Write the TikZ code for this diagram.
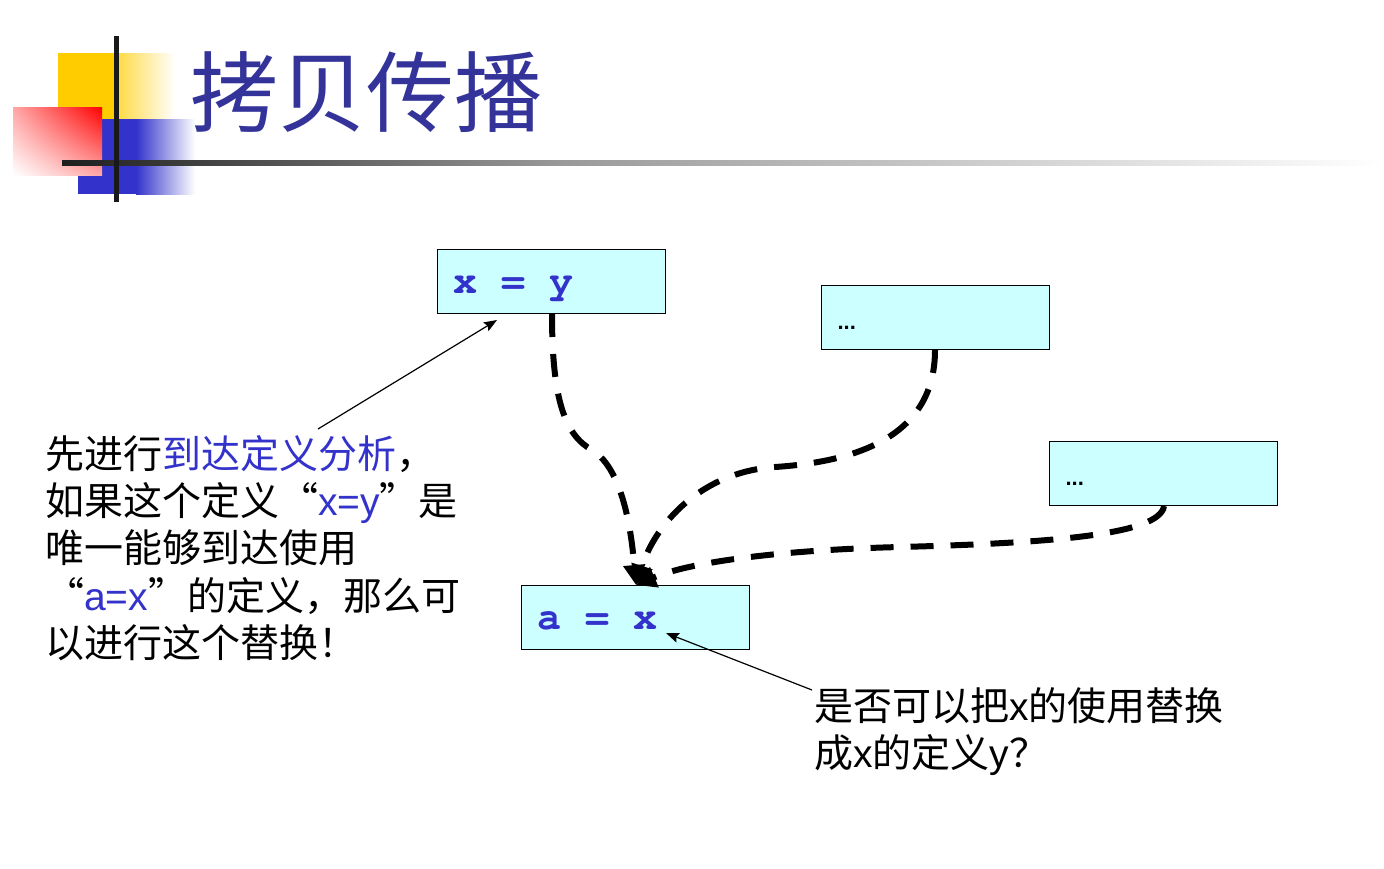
\documentclass[tikz,border=0pt]{standalone}
\usepackage{fontspec}
\setmainfont{Liberation Sans}
\newfontfamily\cjkfont{Noto Sans CJK SC}
\newfontfamily\latfont{Liberation Sans}
\newfontfamily\codefont{TeX Gyre Cursor}
\usetikzlibrary{arrows.meta,shadings}
\definecolor{titleblue}{HTML}{333399}
\definecolor{codeblue}{HTML}{3333CC}
\definecolor{boxfill}{HTML}{CCFFFF}
\definecolor{decoyellow}{HTML}{FFCC00}
\definecolor{decoblue}{HTML}{3333CC}
\newcommand{\csp}{\hspace*{24pt}}
\begin{document}
\begin{tikzpicture}[x=1pt,y=-1pt,
  box/.style={draw=black, line width=1.2pt, fill=boxfill, anchor=north west,
    text width=196pt, inner xsep=16pt, inner ysep=0pt,
    text height=44pt, text depth=20pt, align=left},
  code/.style={font=\codefont\bfseries\fontsize{40}{40}\selectfont, text=codeblue},
  dots/.style={font=\latfont\bfseries\fontsize{22}{22}\selectfont},
  flow/.style={line width=6pt, dash pattern=on 23pt off 17pt,
    -{Triangle[length=20pt,width=21pt]}},
  note/.style={line width=1.2pt, -{Stealth[length=13pt,width=10pt,inset=2pt]}},
  says/.style={inner sep=0pt, anchor=north west, align=left,
    font=\cjkfont\fontsize{39}{47.3}\selectfont}
]
\fill[white] (0,0) rectangle (1384,868);
\useasboundingbox (0,0) rectangle (1384,868);

% decoration
\fill[decoyellow] (58,53) rectangle (116,119);
\shade[left color=decoyellow!75!white, right color=white] (116,53) rectangle (175,119);
\fill[decoblue] (78,119) rectangle (136,194);
\shade[left color=decoblue, right color=white] (136,119) rectangle (195,194);
\shade[upper right=red, lower left=white, upper left=red!35!white, lower right=red!35!white] (13,107) rectangle (102,175);
\shade[left color=black!88, right color=black!40] (62,160.5) rectangle (560,165.5);
\shade[left color=black!40, right color=white] (560,160.5) rectangle (1384,165.5);
\fill[black!90] (113.5,36) rectangle (118.5,202);

% title
\node[anchor=west, inner sep=0pt, text=titleblue, font=\cjkfont\fontsize{88}{88}\selectfont] (title) at (190,92) {拷贝传播};

% boxes
\node[box, code] (b1) at (437,249) {x\csp=\csp y};
\node[box, dots] (b2) at (821,285) {...};
\node[box, dots] (b3) at (1049,441) {...};
\node[box, code] (b4) at (521,585) {a\csp=\csp x};

% dashed flows
\coordinate (s1) at (552,314);
\coordinate (s2) at (935,350);
\coordinate (s3) at (1164,506);
\coordinate (tip) at (636,585);
\draw[flow] (s1) .. controls (552,400) and (565,435) .. (592,450) .. controls (625,470) and (632,540) .. (tip);
\draw[flow] (s2) .. controls (935,440) and (850,462) .. (775,467) .. controls (700,472) and (655,525) .. (tip);
\draw[flow] (s3) .. controls (1160,535) and (1050,543) .. (900,547) .. controls (780,550) and (690,562) .. (tip);

% texts
\node[says] (t1) at (45,435) {先进行{\color{codeblue}到达定义分析}，\\如果这个定义“{\latfont\color{codeblue}x=y}”是\\唯一能够到达使用\\“{\latfont\color{codeblue}a=x}”的定义，那么可\\以进行这个替换！};
\node[says] (t2) at (814,687) {是否可以把{\latfont x}的使用替换\\成{\latfont x}的定义{\latfont y}？};

% notes
\coordinate (n1) at (318,429);
\coordinate (n1tip) at (497,320);
\coordinate (n2) at (812,690);
\coordinate (n2tip) at (666,633);
\draw[note] (n1) -- (n1tip);
\draw[note] (n2) -- (n2tip);
\end{tikzpicture}
\end{document}
